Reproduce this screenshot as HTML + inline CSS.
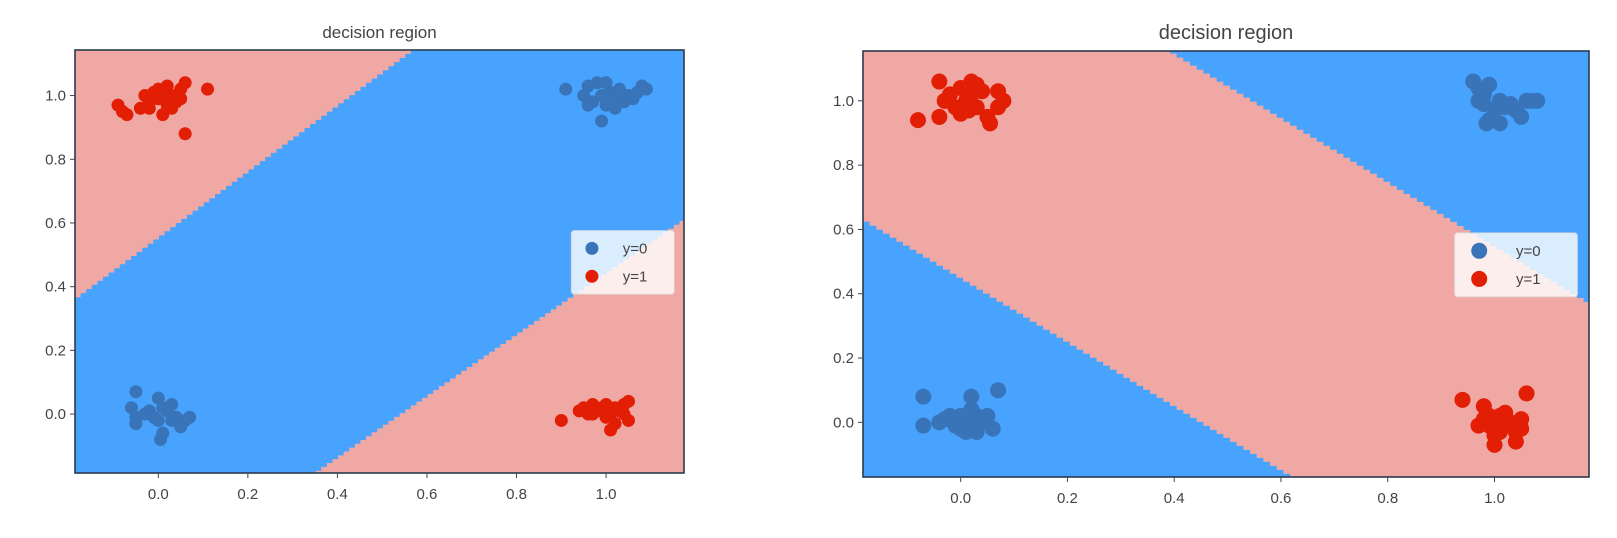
<!DOCTYPE html>
<html><head><meta charset="utf-8"><style>
html,body{margin:0;padding:0;background:#fff;width:1617px;height:538px;overflow:hidden}
svg{display:block}
text{font-family:"Liberation Sans",sans-serif;fill:#444}
</style></head><body>
<svg id="fig" width="1617" height="538"></svg>
<script>
// ---- Chart 1 data ----
const c1RedX=[-0.09,-0.08,-0.07,-0.04,-0.03,-0.02,0,0,0.01,0.02,0.01,-0.01,0.03,0.04,0.05,0.06,0.05,0.11,0.06,0.02,-0.02,0.03];
const c1RedY=[0.97,0.95,0.94,0.96,1.0,0.98,1.02,0.99,1.0,0.97,0.94,1.01,1.0,0.98,1.02,1.04,0.99,1.02,0.88,1.03,0.96,0.96];
const c1RedX2=[0.9,0.94,0.95,0.96,0.97,0.98,0.99,1.0,1.01,1.02,1.01,1.03,1.04,1.05,1.05,1.04,1.0,1.02,0.97];
const c1RedY2=[-0.02,0.01,0.02,0,0.03,0.01,0.02,-0.01,0,-0.03,-0.05,0.01,0.03,0.04,-0.02,0,0.03,0.02,0];
const c1BlueX=[0.91,0.95,0.96,0.97,0.98,0.99,1.0,1.01,1.02,1.03,1.04,1.05,1.07,1.08,1.09,0.99,0.96,1.0,1.02,1.06];
const c1BlueY=[1.02,1.0,1.03,0.98,1.04,1.0,0.97,1.01,0.99,1.02,0.98,1.0,1.01,1.03,1.02,0.92,0.97,1.04,0.96,0.99];
const c1BlueX2=[-0.05,-0.06,-0.05,-0.05,-0.03,-0.02,0,0,0.01,0.005,0.02,0.03,0.03,0.04,0.05,0.06,0.07,0.01,-0.01];
const c1BlueY2=[0.07,0.02,-0.01,-0.03,0,0.01,0.05,-0.02,-0.06,-0.08,0.01,0.03,-0.02,-0.01,-0.04,-0.02,-0.01,0.02,-0.01];
const c1XTicks=[0.0,0.2,0.4,0.6,0.8,1.0];
const c1YTicks=[0.0,0.2,0.4,0.6,0.8,1.0];
// boundary lines: y = a + b*x ; upper and lower
const c1Upper=[0.553,1.036];
const c1Lower=[-0.523,0.965];
// ---- Chart 2 data ----
const c2RedX=[-0.08,-0.04,-0.04,-0.03,-0.02,0,0,0.01,0.02,0.02,0.03,0.04,0.05,0.055,0.07,0.08,0.07,-0.01,0.015,0.03];
const c2RedY=[0.94,1.06,0.95,1.0,1.02,0.96,1.04,1.0,1.06,1.02,0.98,1.03,0.95,0.93,1.03,1.0,0.98,0.98,0.97,1.05];
const c2RedX2=[0.94,0.97,0.98,0.99,0.99,1.0,1.0,1.0,1.01,1.02,1.02,1.03,1.04,1.04,1.05,1.05,1.06,1.01,0.98];
const c2RedY2=[0.07,-0.01,0.05,0.02,-0.01,0,-0.04,-0.07,0.02,-0.01,0.03,0,-0.03,-0.06,-0.02,0.01,0.09,-0.03,0.01];
const c2BlueX=[0.96,0.97,0.98,0.99,0.98,0.99,1.0,1.01,1.02,1.03,1.04,1.05,1.06,1.07,1.08,0.985,1.01,0.97];
const c2BlueY=[1.06,1.04,1.02,1.05,0.99,0.94,0.97,1.0,0.98,0.99,0.97,0.95,1.0,1.0,1.0,0.93,0.93,1.0];
const c2BlueX2=[-0.07,-0.07,-0.04,-0.03,-0.02,-0.01,0,0.01,0.01,0.02,0.02,0.03,0.03,0.04,0.05,0.06,0.07,0,0.02];
const c2BlueY2=[0.08,-0.01,0,0.01,0.02,-0.01,-0.02,0,-0.03,0.04,0.08,0.02,-0.03,0,0.02,-0.02,0.1,0.02,-0.01];
const c2XTicks=[0.0,0.2,0.4,0.6,0.8,1.0];
const c2YTicks=[0.0,0.2,0.4,0.6,0.8,1.0];
const c2Upper=[1.544,-0.997];
const c2Lower=[0.448,-0.996];

const NS="http://www.w3.org/2000/svg";
const svg=document.getElementById('fig');
function mk(tag,attrs,parent){const e=document.createElementNS(NS,tag);for(const k in attrs)e.setAttribute(k,attrs[k]);(parent||svg).appendChild(e);return e;}

function drawChart(o){
  const g=mk('g',{});
  
  
  const sx=v=>o.L+(v-o.x0)/(o.x1-o.x0)*(o.R-o.L);
  const sy=v=>o.B-(v-o.y0)/(o.y1-o.y0)*(o.B-o.T);
  const bg=mk('rect',{x:o.L,y:o.T,width:o.R-o.L,height:o.B-o.T,fill:o.bgColor},g);
  
  
  const step=o.step;
  function region(line,above,name){
    let pts=[];
    for(let x=o.x0;x<o.x1+step;x+=step){
      const xa=Math.min(x,o.x1), xb=Math.min(x+step,o.x1);
      let y=line[0]+line[1]*(x+step/2);
      y=Math.max(o.y0,Math.min(o.y1,y));
      pts.push([sx(xa),sy(y)],[sx(xb),sy(y)]);
    }
    const edge=above?o.T:o.B;
    pts.push([o.R,edge],[o.L,edge]);
    const p=mk('polygon',{points:pts.map(p=>p.join(',')).join(' '),fill:o.fgColor},g);
    
    
  }
  region(o.upper,true,'upper-region');
  region(o.lower,false,'lower-region');
  function scatter(xs,ys,col,name){
    for(let i=0;i<xs.length;i++){
      const c=mk('circle',{cx:sx(xs[i]),cy:sy(ys[i]),r:o.r,fill:col},g);
      
      
    }
  }
  scatter(o.bx,o.by,'#3a74b8','point-y0');
  scatter(o.bx2,o.by2,'#3a74b8','point-y0');
  scatter(o.rx,o.ry,'#e21e05','point-y1');
  scatter(o.rx2,o.ry2,'#e21e05','point-y1');
  const fr=mk('rect',{x:o.L,y:o.T,width:o.R-o.L,height:o.B-o.T,fill:'none',stroke:'#2a3a4a','stroke-width':1.6},g);
  
  
  o.xt.forEach(v=>{
    const x=sx(v);
    mk('line',{x1:x,x2:x,y1:o.B,y2:o.B+5,stroke:'#444'},g);
    const t=mk('text',{x:x,y:o.B+26,'font-size':15,'text-anchor':'middle'},g);
    t.textContent=v.toFixed(1);
    
    
  });
  o.yt.forEach(v=>{
    const y=sy(v);
    mk('line',{x1:o.L-5,x2:o.L,y1:y,y2:y,stroke:'#444'},g);
    const t=mk('text',{x:o.L-9,y:y+5,'font-size':15,'text-anchor':'end'},g);
    t.textContent=v.toFixed(1);
    
    
  });
  const tt=mk('text',{x:(o.L+o.R)/2,y:o.T-12,'font-size':o.titleSize,'text-anchor':'middle'},g);
  tt.textContent='decision region';
  
  
  const W=o.R-o.L,H=o.B-o.T;
  const lx=o.L+0.815*W, ly=o.T+0.427*H, lw=0.169*W, lh=0.15*H;
  const lg=mk('g',{},g);
  
  
  mk('rect',{x:lx,y:ly,width:lw,height:lh,rx:3,fill:'rgba(255,255,255,0.8)',stroke:'rgba(220,220,220,0.8)'},lg);
  [['y=0','#3a74b8'],['y=1','#e21e05']].forEach((e,i)=>{
    const yy=ly+lh*(0.28+0.44*i);
    const c=mk('circle',{cx:lx+lw*0.2,cy:yy,r:o.r,fill:e[1]},lg);
    
    
    const t=mk('text',{x:lx+lw*0.5,y:yy+5,'font-size':15},lg);
    t.textContent=e[0];
    
    
  });
}
drawChart({name:'chart-left',L:75,R:684,T:50,B:473,x0:-0.186,x1:1.174,y0:-0.185,y1:1.143,
  bgColor:'#47a3fd',fgColor:'#f0a8a4',upper:c1Upper,lower:c1Lower,step:0.0125,r:6.5,
  rx:c1RedX,ry:c1RedY,rx2:c1RedX2,ry2:c1RedY2,bx:c1BlueX,by:c1BlueY,bx2:c1BlueX2,by2:c1BlueY2,
  xt:c1XTicks,yt:c1YTicks,titleSize:17});
drawChart({name:'chart-right',L:863,R:1589,T:51,B:477,x0:-0.183,x1:1.177,y0:-0.17,y1:1.155,
  bgColor:'#f0a8a4',fgColor:'#47a3fd',upper:c2Upper,lower:c2Lower,step:0.0125,r:8,
  rx:c2RedX,ry:c2RedY,rx2:c2RedX2,ry2:c2RedY2,bx:c2BlueX,by:c2BlueY,bx2:c2BlueX2,by2:c2BlueY2,
  xt:c2XTicks,yt:c2YTicks,titleSize:20});
</script>
</body></html>
